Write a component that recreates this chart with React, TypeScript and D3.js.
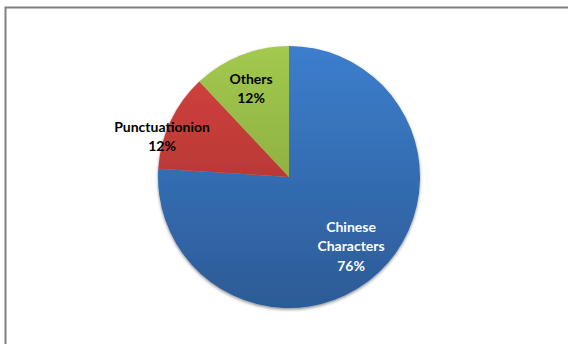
import React from "react";
import * as d3 from "d3";

const categories = ["Chinese Characters", "Punctuationion", "Others"];
const values = [76, 12, 12];
const labelLines = [["Chinese", "Characters", "76%"], ["Punctuationion", "12%"], ["Others", "12%"]];

const W = 568;
const H = 344;
const cx = 289;
const cy = 177;
const R = 131;
const gradients = [
  ["#3c7ecd", "#2c5b96"],
  ["#d4433f", "#a02e2d"],
  ["#a3c94f", "#7b9a35"],
];
const textColors = ["#ffffff", "#000000", "#000000"];
const labelDx = [-3, -41, -3];

export default function App() {
  const pie = d3.pie<number>().sort(null).value((d) => d);
  const arcs = pie(values);
  const arc = d3.arc<d3.PieArcDatum<number>>().innerRadius(0).outerRadius(R);
  const labelArc = d3.arc<d3.PieArcDatum<number>>().innerRadius(95).outerRadius(95);
  const lineH = 19.5;
  return (
    <svg width={W} height={H} style={{ position: "absolute", left: 0, top: 0 }}>
      <defs>
        {gradients.map((g, i) => (
          <linearGradient key={i} id={`g${i}`} x1="0" y1={-R} x2="0" y2={R} gradientUnits="userSpaceOnUse">
            <stop offset="0" stopColor={g[0]} />
            <stop offset="1" stopColor={g[1]} />
          </linearGradient>
        ))}
        <filter id="sh" x="-10%" y="-10%" width="120%" height="120%">
          <feDropShadow dx="0" dy="1.5" stdDeviation="1.8" floodColor="#000" floodOpacity="0.45" />
        </filter>
      </defs>
      <rect x={0} y={0} width={W} height={H} fill="#fff" />
      <rect x={5.5} y={7.5} width={700} height={500} fill="none" stroke="#808080" strokeWidth={2} />
      <g transform={`translate(${cx},${cy})`} filter="url(#sh)">
        {arcs.map((a, i) => (
          <path key={categories[i]} d={arc(a) || ""} fill={`url(#g${i})`} />
        ))}
      </g>
      {arcs.map((a, i) => {
        const [x, y] = labelArc.centroid(a);
        const lines = labelLines[i];
        const lx = cx + x + labelDx[i];
        const y0 = cy + y - ((lines.length - 1) * lineH) / 2 + 5;
        return (
          <text key={i} x={lx} y={y0} textAnchor="middle" fontFamily="Lato, 'Open Sans', sans-serif" fontWeight="bold" fontSize={14} fill={textColors[i]}>
            {lines.map((l, j) => (
              <tspan key={j} x={lx} y={y0 + j * lineH}>{l}</tspan>
            ))}
          </text>
        );
      })}
    </svg>
  );
}
